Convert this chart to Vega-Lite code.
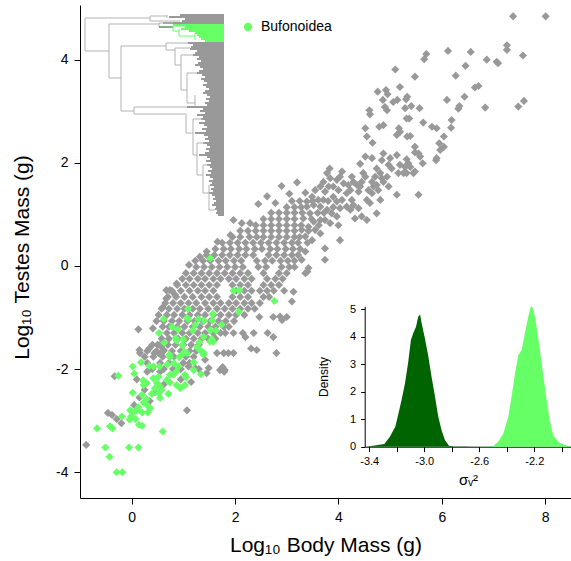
{
"$schema":"https://vega.github.io/schema/vega-lite/v6.json",
"width":491,"height":493,
"autosize":{"type":"none"},
"padding":{"left":80,"top":5,"right":0,"bottom":63},
"background":"white",
"config":{"view":{"stroke":null},"font":"Liberation Sans","axis":{"grid":false,"domainColor":"black","tickColor":"black","labelColor":"black","titleColor":"black","titleFontWeight":"normal","labelFont":"Liberation Sans","titleFont":"Liberation Sans","labelFlush":false,"labelOverlap":false,"labelBound":false}},
"datasets":{
"grey":[
{"x":7.38,"y":4.84},{"x":8.01,"y":4.84},{"x":7.26,"y":4.28},{"x":7.26,"y":4.19},{"x":7.57,"y":4.08},{"x":6.87,"y":4.0},{"x":7.06,"y":3.96},{"x":7.09,"y":3.93},{"x":6.56,"y":4.15},{"x":6.12,"y":4.17},{"x":5.70,"y":4.11},{"x":5.66,"y":4.01},{"x":6.46,"y":3.88},{"x":6.27,"y":3.69},{"x":5.10,"y":3.81},{"x":5.48,"y":3.67},{"x":6.64,"y":3.46},{"x":6.71,"y":3.49},{"x":5.19,"y":3.47},{"x":4.76,"y":3.38},{"x":4.92,"y":3.41},{"x":4.95,"y":3.33},{"x":5.33,"y":3.28},{"x":5.31,"y":3.23},{"x":5.14,"y":3.22},{"x":5.06,"y":3.18},{"x":4.86,"y":3.22},{"x":4.90,"y":3.08},{"x":4.94,"y":3.02},{"x":6.10,"y":3.22},{"x":6.44,"y":3.28},{"x":6.34,"y":3.10},{"x":6.32,"y":3.05},{"x":6.84,"y":3.07},{"x":7.59,"y":3.20},{"x":7.48,"y":3.09},{"x":4.60,"y":3.02},{"x":4.61,"y":2.94},{"x":5.29,"y":3.06},{"x":5.41,"y":3.10},{"x":5.57,"y":3.06},{"x":5.32,"y":2.86},{"x":5.37,"y":2.86},{"x":5.64,"y":2.78},{"x":5.81,"y":2.70},{"x":5.90,"y":2.67},{"x":6.19,"y":2.83},{"x":6.18,"y":2.68},{"x":4.52,"y":2.67},{"x":4.55,"y":2.51},{"x":4.79,"y":2.70},{"x":4.87,"y":2.73},{"x":4.66,"y":2.39},{"x":5.17,"y":2.67},{"x":5.19,"y":2.60},{"x":5.13,"y":2.54},{"x":5.33,"y":2.51},{"x":5.39,"y":2.52},{"x":5.48,"y":2.31},{"x":6.04,"y":2.51},{"x":5.95,"y":2.38},{"x":6.04,"y":2.31},{"x":5.97,"y":2.25},{"x":5.90,"y":2.09},{"x":5.89,"y":2.05},{"x":5.63,"y":1.99},{"x":5.48,"y":2.20},{"x":5.55,"y":2.18},{"x":5.58,"y":2.12},{"x":5.32,"y":2.07},{"x":5.35,"y":1.99},{"x":5.39,"y":1.92},{"x":5.29,"y":1.92},{"x":5.13,"y":2.15},{"x":5.0,"y":2.09},{"x":4.87,"y":2.18},{"x":4.84,"y":2.05},{"x":4.65,"y":2.09},{"x":4.52,"y":2.12},{"x":4.42,"y":1.98},{"x":5.19,"y":1.96},{"x":5.16,"y":1.80},{"x":5.26,"y":1.80},{"x":5.32,"y":1.80},{"x":5.45,"y":1.80},{"x":5.48,"y":1.83},{"x":4.97,"y":1.96},{"x":5.03,"y":1.89},{"x":4.94,"y":1.73},{"x":4.87,"y":1.63},{"x":4.97,"y":1.54},{"x":4.74,"y":1.89},{"x":4.81,"y":1.80},{"x":4.71,"y":1.73},{"x":4.84,"y":1.70},{"x":4.65,"y":1.63},{"x":4.74,"y":1.57},{"x":4.77,"y":1.47},{"x":4.68,"y":1.54},{"x":4.48,"y":1.80},{"x":4.52,"y":1.73},{"x":4.45,"y":1.63},{"x":4.42,"y":1.54},{"x":4.58,"y":1.47},{"x":4.65,"y":1.41},{"x":4.55,"y":1.28},{"x":4.61,"y":1.22},{"x":4.26,"y":1.73},{"x":4.29,"y":1.63},{"x":4.36,"y":1.57},{"x":4.19,"y":1.57},{"x":4.23,"y":1.47},{"x":4.39,"y":1.44},{"x":4.07,"y":1.83},{"x":4.03,"y":1.73},{"x":3.97,"y":1.67},{"x":4.10,"y":1.60},{"x":3.90,"y":1.54},{"x":4.0,"y":1.47},{"x":4.16,"y":1.41},{"x":3.83,"y":1.89},{"x":3.78,"y":1.80},{"x":3.84,"y":1.70},{"x":3.71,"y":1.63},{"x":3.81,"y":1.54},{"x":3.65,"y":1.54},{"x":3.74,"y":1.44},{"x":3.36,"y":1.42},{"x":3.55,"y":1.47},{"x":3.49,"y":1.34},{"x":3.61,"y":1.28},{"x":3.39,"y":1.25},{"x":3.52,"y":1.18},{"x":3.65,"y":1.15},{"x":3.90,"y":1.34},{"x":3.97,"y":1.25},{"x":4.07,"y":1.28},{"x":4.16,"y":1.15},{"x":4.03,"y":1.12},{"x":4.23,"y":1.09},{"x":4.26,"y":1.28},{"x":4.29,"y":1.18},{"x":4.39,"y":1.12},{"x":4.45,"y":0.96},{"x":4.32,"y":0.92},{"x":4.55,"y":0.89},{"x":4.81,"y":1.28},{"x":4.74,"y":1.02},{"x":5.13,"y":1.38},{"x":5.55,"y":1.38},{"x":3.71,"y":1.28},{"x":3.78,"y":1.09},{"x":3.87,"y":1.02},{"x":3.97,"y":0.96},{"x":3.74,"y":0.89},{"x":3.84,"y":0.83},{"x":3.65,"y":0.89},{"x":4.0,"y":0.79},{"x":3.39,"y":1.15},{"x":3.45,"y":1.02},{"x":3.32,"y":0.92},{"x":3.52,"y":0.86},{"x":3.42,"y":0.76},{"x":3.29,"y":0.70},{"x":3.55,"y":0.70},{"x":3.36,"y":0.57},{"x":3.49,"y":0.50},{"x":3.65,"y":0.63},{"x":3.74,"y":0.34},{"x":3.74,"y":0.12},{"x":4.03,"y":0.50},{"x":3.36,"y":0.28},{"x":3.29,"y":0.12},{"x":3.42,"y":-0.04},{"x":3.36,"y":-0.14},
{"x":2.45,"y":1.2},{"x":2.62,"y":1.35},{"x":2.9,"y":1.55},{"x":3.05,"y":1.4},{"x":2.78,"y":1.22},{"x":3.2,"y":1.62},
{"x":-0.88,"y":-3.47},{"x":-0.33,"y":-2.14},{"x":-0.46,"y":-2.85},{"x":-0.38,"y":-2.89},{"x":-0.20,"y":-3.05},{"x":-0.29,"y":-2.97},{"x":1.07,"y":-2.80},{"x":0.13,"y":-1.23},{"x":0.41,"y":-1.21},{"x":0.15,"y":-1.63},{"x":0.34,"y":-1.60},{"x":0.16,"y":-1.69},{"x":0.44,"y":-1.69},{"x":0.52,"y":-1.69},{"x":0.62,"y":-1.63},{"x":0.67,"y":-0.47},{"x":0.60,"y":-0.80},{"x":0.50,"y":-1.53},{"x":0.57,"y":-1.56},{"x":1.42,"y":-1.82},{"x":1.49,"y":-1.98},{"x":1.45,"y":-2.08},{"x":1.23,"y":-1.98},{"x":1.10,"y":-1.95},{"x":1.65,"y":-1.69},{"x":1.78,"y":-1.69},{"x":1.87,"y":-1.69},{"x":1.97,"y":-1.69},{"x":1.71,"y":-2.02},{"x":1.80,"y":-2.02},{"x":1.81,"y":-1.30},{"x":1.97,"y":-1.30},{"x":2.15,"y":-1.30},{"x":2.20,"y":-1.38},{"x":2.36,"y":-1.30},{"x":2.47,"y":-0.99},{"x":2.74,"y":-0.99},{"x":2.87,"y":-0.98},{"x":3.0,"y":-0.99},{"x":2.91,"y":-1.05},{"x":2.63,"y":-1.30},{"x":2.74,"y":-1.38},{"x":2.80,"y":-1.69},{"x":3.10,"y":-0.69},{"x":3.13,"y":-0.50},{"x":2.95,"y":-0.48},{"x":3.40,"y":-0.11},{"x":2.31,"y":-1.60},{"x":2.42,"y":-1.63},{"x":1.76,"y":-1.96},{"x":1.79,"y":-2.05},{"x":1.11,"y":0.02},{"x":1.23,"y":0.10},{"x":1.32,"y":0.18},{"x":1.45,"y":0.28},{"x":0.87,"y":-0.34},{"x":0.74,"y":-0.47},{"x":0.84,"y":-0.56},{"x":0.67,"y":-0.63},{"x":1.66,"y":0.47},{"x":1.91,"y":0.60},{"x":1.97,"y":0.89},{"x":2.13,"y":0.83},{"x":2.29,"y":0.83},
{"x":0.25,"y":-2.4},{"x":0.15,"y":-2.55},{"x":0.35,"y":-2.62},{"x":0.05,"y":-2.7},{"x":0.45,"y":-2.45},{"x":0.62,"y":-2.3},{"x":0.8,"y":-2.0},{"x":0.55,"y":-2.05},{"x":0.95,"y":-2.2},{"x":1.15,"y":-2.25},{"x":1.3,"y":-2.0},{"x":0.3,"y":-2.05},{"x":0.1,"y":-2.2},
{"x":3.1,"y":1.26},{"x":3.25,"y":1.26},{"x":3.5,"y":1.26},{"x":3.8,"y":1.26},
{"x":3.0,"y":1.14},{"x":3.15,"y":1.14},{"x":3.28,"y":1.14},{"x":3.9,"y":1.14},
{"x":2.7,"y":1.03},{"x":2.85,"y":1.03},{"x":3.0,"y":1.03},{"x":3.15,"y":1.03},{"x":3.3,"y":1.03},{"x":3.6,"y":1.03},{"x":3.72,"y":1.03},
{"x":2.55,"y":0.91},{"x":2.7,"y":0.91},{"x":2.85,"y":0.91},{"x":3.0,"y":0.91},{"x":3.15,"y":0.91},{"x":3.48,"y":0.91},
{"x":2.4,"y":0.79},{"x":2.55,"y":0.79},{"x":2.7,"y":0.79},{"x":2.85,"y":0.79},{"x":3.0,"y":0.79},{"x":3.15,"y":0.79},{"x":3.28,"y":0.79},{"x":3.62,"y":0.79},
{"x":2.1,"y":0.68},{"x":2.25,"y":0.68},{"x":2.4,"y":0.68},{"x":2.55,"y":0.68},{"x":2.7,"y":0.68},{"x":2.85,"y":0.68},{"x":3.0,"y":0.68},{"x":3.15,"y":0.68},{"x":3.42,"y":0.68},
{"x":1.95,"y":0.56},{"x":2.1,"y":0.56},{"x":2.28,"y":0.56},{"x":2.42,"y":0.56},{"x":2.55,"y":0.56},{"x":2.7,"y":0.56},{"x":2.85,"y":0.56},{"x":3.0,"y":0.56},{"x":3.15,"y":0.56},{"x":3.25,"y":0.56},
{"x":1.75,"y":0.45},{"x":1.9,"y":0.45},{"x":2.05,"y":0.45},{"x":2.2,"y":0.45},{"x":2.35,"y":0.45},{"x":2.5,"y":0.45},{"x":2.65,"y":0.45},{"x":2.8,"y":0.45},{"x":2.95,"y":0.45},{"x":3.1,"y":0.45},{"x":3.22,"y":0.45},{"x":3.4,"y":0.45},
{"x":1.62,"y":0.33},{"x":1.78,"y":0.33},{"x":1.92,"y":0.33},{"x":2.08,"y":0.33},{"x":2.22,"y":0.33},{"x":2.38,"y":0.33},{"x":2.52,"y":0.33},{"x":2.68,"y":0.33},{"x":2.82,"y":0.33},{"x":2.98,"y":0.33},{"x":3.12,"y":0.33},{"x":3.26,"y":0.33},
{"x":1.45,"y":0.21},{"x":1.6,"y":0.21},{"x":1.75,"y":0.21},{"x":1.9,"y":0.21},{"x":2.05,"y":0.21},{"x":2.2,"y":0.21},{"x":2.35,"y":0.21},{"x":2.65,"y":0.21},{"x":2.8,"y":0.21},{"x":2.95,"y":0.21},{"x":3.1,"y":0.21},{"x":3.22,"y":0.21},
{"x":1.38,"y":0.10},{"x":1.52,"y":0.10},{"x":1.68,"y":0.10},{"x":1.82,"y":0.10},{"x":1.98,"y":0.10},{"x":2.12,"y":0.10},{"x":2.42,"y":0.10},{"x":2.58,"y":0.10},{"x":2.72,"y":0.10},{"x":2.88,"y":0.10},{"x":3.02,"y":0.10},{"x":3.15,"y":0.10},
{"x":1.25,"y":-0.02},{"x":1.4,"y":-0.02},{"x":1.55,"y":-0.02},{"x":1.7,"y":-0.02},{"x":1.85,"y":-0.02},{"x":2.0,"y":-0.02},{"x":2.15,"y":-0.02},{"x":2.45,"y":-0.02},{"x":2.6,"y":-0.02},{"x":2.9,"y":-0.02},{"x":3.05,"y":-0.02},{"x":3.15,"y":-0.02},
{"x":1.05,"y":-0.14},{"x":1.2,"y":-0.14},{"x":1.35,"y":-0.14},{"x":1.5,"y":-0.14},{"x":1.65,"y":-0.14},{"x":1.8,"y":-0.14},{"x":1.95,"y":-0.14},{"x":2.1,"y":-0.14},{"x":2.25,"y":-0.14},{"x":2.55,"y":-0.14},{"x":2.85,"y":-0.14},{"x":3.0,"y":-0.14},
{"x":0.98,"y":-0.25},{"x":1.12,"y":-0.25},{"x":1.28,"y":-0.25},{"x":1.42,"y":-0.25},{"x":1.58,"y":-0.25},{"x":1.72,"y":-0.25},{"x":1.88,"y":-0.25},{"x":2.02,"y":-0.25},{"x":2.18,"y":-0.25},{"x":2.32,"y":-0.25},{"x":2.62,"y":-0.25},{"x":2.78,"y":-0.25},{"x":2.92,"y":-0.25},
{"x":0.88,"y":-0.37},{"x":1.05,"y":-0.37},{"x":1.2,"y":-0.37},{"x":1.35,"y":-0.37},{"x":1.5,"y":-0.37},{"x":1.65,"y":-0.37},{"x":1.95,"y":-0.37},{"x":2.1,"y":-0.37},{"x":2.25,"y":-0.37},{"x":2.55,"y":-0.37},{"x":2.7,"y":-0.37},{"x":2.85,"y":-0.37},
{"x":0.78,"y":-0.48},{"x":0.95,"y":-0.48},{"x":1.12,"y":-0.48},{"x":1.28,"y":-0.48},{"x":1.42,"y":-0.48},{"x":1.58,"y":-0.48},{"x":2.02,"y":-0.48},{"x":2.18,"y":-0.48},{"x":2.32,"y":-0.48},{"x":2.48,"y":-0.48},{"x":2.62,"y":-0.48},{"x":2.75,"y":-0.48},
{"x":0.7,"y":-0.60},{"x":0.86,"y":-0.60},{"x":1.02,"y":-0.60},{"x":1.18,"y":-0.60},{"x":1.35,"y":-0.60},{"x":1.5,"y":-0.60},{"x":1.65,"y":-0.60},{"x":1.95,"y":-0.60},{"x":2.1,"y":-0.60},{"x":2.25,"y":-0.60},{"x":2.55,"y":-0.60},{"x":2.66,"y":-0.60},
{"x":0.65,"y":-0.72},{"x":0.8,"y":-0.72},{"x":0.95,"y":-0.72},{"x":1.1,"y":-0.72},{"x":1.25,"y":-0.72},{"x":1.42,"y":-0.72},{"x":1.58,"y":-0.72},{"x":1.72,"y":-0.72},{"x":1.88,"y":-0.72},{"x":2.02,"y":-0.72},{"x":2.18,"y":-0.72},{"x":2.32,"y":-0.72},{"x":2.48,"y":-0.72},
{"x":0.58,"y":-0.83},{"x":0.72,"y":-0.83},{"x":0.88,"y":-0.83},{"x":1.02,"y":-0.83},{"x":1.18,"y":-0.83},{"x":1.32,"y":-0.83},{"x":1.48,"y":-0.83},{"x":1.65,"y":-0.83},{"x":1.8,"y":-0.83},{"x":1.95,"y":-0.83},{"x":2.1,"y":-0.83},{"x":2.25,"y":-0.83},{"x":2.38,"y":-0.83},
{"x":0.52,"y":-0.95},{"x":0.68,"y":-0.95},{"x":0.82,"y":-0.95},{"x":0.98,"y":-0.95},{"x":1.12,"y":-0.95},{"x":1.28,"y":-0.95},{"x":1.42,"y":-0.95},{"x":1.58,"y":-0.95},{"x":1.72,"y":-0.95},{"x":1.88,"y":-0.95},{"x":2.02,"y":-0.95},{"x":2.18,"y":-0.95},
{"x":0.48,"y":-1.07},{"x":0.62,"y":-1.07},{"x":0.78,"y":-1.07},{"x":0.92,"y":-1.07},{"x":1.08,"y":-1.07},{"x":1.22,"y":-1.07},{"x":1.38,"y":-1.07},{"x":1.52,"y":-1.07},{"x":1.68,"y":-1.07},{"x":1.82,"y":-1.07},{"x":1.98,"y":-1.07},
{"x":0.6,"y":-1.18},{"x":0.72,"y":-1.18},{"x":0.88,"y":-1.18},{"x":1.02,"y":-1.18},{"x":1.18,"y":-1.18},{"x":1.32,"y":-1.18},{"x":1.48,"y":-1.18},{"x":1.62,"y":-1.18},{"x":1.78,"y":-1.18},{"x":1.88,"y":-1.18},
{"x":0.68,"y":-1.30},{"x":0.82,"y":-1.30},{"x":0.98,"y":-1.30},{"x":1.12,"y":-1.30},{"x":1.28,"y":-1.30},{"x":1.42,"y":-1.30},{"x":1.58,"y":-1.30},{"x":1.72,"y":-1.30},
{"x":0.58,"y":-1.41},{"x":0.72,"y":-1.41},{"x":0.9,"y":-1.41},{"x":1.05,"y":-1.41},{"x":1.2,"y":-1.41},{"x":1.35,"y":-1.41},{"x":1.48,"y":-1.41},{"x":1.62,"y":-1.41},
{"x":0.4,"y":-1.53},{"x":0.55,"y":-1.53},{"x":0.7,"y":-1.53},{"x":0.85,"y":-1.53},{"x":1.0,"y":-1.53},{"x":1.15,"y":-1.53},{"x":1.3,"y":-1.53},
{"x":0.3,"y":-1.65},{"x":0.48,"y":-1.65},{"x":0.62,"y":-1.65},{"x":0.78,"y":-1.65},{"x":0.95,"y":-1.65},{"x":1.12,"y":-1.65},{"x":1.25,"y":-1.65},
{"x":0.25,"y":-1.76},{"x":0.42,"y":-1.76},{"x":0.6,"y":-1.76},{"x":0.82,"y":-1.76},{"x":1.05,"y":-1.76},{"x":1.2,"y":-1.76},
{"x":0.3,"y":-1.88},{"x":0.55,"y":-1.88},{"x":0.72,"y":-1.88},{"x":1.0,"y":-1.88},{"x":1.12,"y":-1.88},
{"x":0.4,"y":-2.0},{"x":0.62,"y":-2.0},{"x":0.95,"y":-2.0}
],
"green":[
{"x":1.52,"y":0.15,"clade":"Bufonoidea"},{"x":1.97,"y":-0.48,"clade":"Bufonoidea"},{"x":2.08,"y":-0.47,"clade":"Bufonoidea"},{"x":2.76,"y":-0.68,"clade":"Bufonoidea"},{"x":2.07,"y":-0.89,"clade":"Bufonoidea"},{"x":1.09,"y":-0.83,"clade":"Bufonoidea"},{"x":1.57,"y":-0.93,"clade":"Bufonoidea"},{"x":1.07,"y":-1.01,"clade":"Bufonoidea"},{"x":1.09,"y":-1.03,"clade":"Bufonoidea"},{"x":0.62,"y":-1.03,"clade":"Bufonoidea"},{"x":1.29,"y":-1.03,"clade":"Bufonoidea"},{"x":1.40,"y":-1.06,"clade":"Bufonoidea"},{"x":1.56,"y":-1.06,"clade":"Bufonoidea"},{"x":1.23,"y":-1.14,"clade":"Bufonoidea"},{"x":1.74,"y":-1.14,"clade":"Bufonoidea"},{"x":0.78,"y":-1.18,"clade":"Bufonoidea"},{"x":0.89,"y":-1.23,"clade":"Bufonoidea"},{"x":1.18,"y":-1.25,"clade":"Bufonoidea"},{"x":1.52,"y":-1.25,"clade":"Bufonoidea"},{"x":1.63,"y":-1.25,"clade":"Bufonoidea"},{"x":0.53,"y":-1.30,"clade":"Bufonoidea"},{"x":0.85,"y":-1.40,"clade":"Bufonoidea"},{"x":0.87,"y":-1.45,"clade":"Bufonoidea"},{"x":1.0,"y":-1.42,"clade":"Bufonoidea"},{"x":1.39,"y":-1.38,"clade":"Bufonoidea"},{"x":1.55,"y":-1.42,"clade":"Bufonoidea"},{"x":1.52,"y":-1.47,"clade":"Bufonoidea"},{"x":1.58,"y":-1.47,"clade":"Bufonoidea"},{"x":0.63,"y":-1.49,"clade":"Bufonoidea"},{"x":1.31,"y":-1.48,"clade":"Bufonoidea"},{"x":1.27,"y":-1.58,"clade":"Bufonoidea"},{"x":1.32,"y":-1.63,"clade":"Bufonoidea"},{"x":0.98,"y":-1.54,"clade":"Bufonoidea"},{"x":1.02,"y":-1.67,"clade":"Bufonoidea"},{"x":1.07,"y":-1.69,"clade":"Bufonoidea"},{"x":0.97,"y":-1.72,"clade":"Bufonoidea"},{"x":0.92,"y":-1.77,"clade":"Bufonoidea"},{"x":0.73,"y":-1.72,"clade":"Bufonoidea"},{"x":0.74,"y":-1.77,"clade":"Bufonoidea"},{"x":1.39,"y":-1.72,"clade":"Bufonoidea"},{"x":1.39,"y":-1.68,"clade":"Bufonoidea"},{"x":0.18,"y":-1.87,"clade":"Bufonoidea"},{"x":0.02,"y":-1.95,"clade":"Bufonoidea"},{"x":0.34,"y":-1.94,"clade":"Bufonoidea"},{"x":0.42,"y":-1.95,"clade":"Bufonoidea"},{"x":0.54,"y":-1.95,"clade":"Bufonoidea"},{"x":0.69,"y":-1.91,"clade":"Bufonoidea"},{"x":0.82,"y":-1.89,"clade":"Bufonoidea"},{"x":0.91,"y":-1.95,"clade":"Bufonoidea"},{"x":0.86,"y":-2.05,"clade":"Bufonoidea"},{"x":0.81,"y":-2.11,"clade":"Bufonoidea"},{"x":1.20,"y":-1.87,"clade":"Bufonoidea"},{"x":1.20,"y":-2.02,"clade":"Bufonoidea"},{"x":1.34,"y":-2.10,"clade":"Bufonoidea"},{"x":1.03,"y":-2.11,"clade":"Bufonoidea"},{"x":1.05,"y":-2.16,"clade":"Bufonoidea"},{"x":0.74,"y":-2.11,"clade":"Bufonoidea"},{"x":0.68,"y":-2.21,"clade":"Bufonoidea"},{"x":0.74,"y":-2.26,"clade":"Bufonoidea"},{"x":-0.26,"y":-2.13,"clade":"Bufonoidea"},{"x":0.05,"y":-2.09,"clade":"Bufonoidea"},{"x":0.22,"y":-2.22,"clade":"Bufonoidea"},{"x":0.29,"y":-2.27,"clade":"Bufonoidea"},{"x":0.23,"y":-2.31,"clade":"Bufonoidea"},{"x":0.42,"y":-2.18,"clade":"Bufonoidea"},{"x":0.52,"y":-2.15,"clade":"Bufonoidea"},{"x":0.49,"y":-2.27,"clade":"Bufonoidea"},{"x":0.55,"y":-2.34,"clade":"Bufonoidea"},{"x":0.45,"y":-2.37,"clade":"Bufonoidea"},{"x":0.87,"y":-2.31,"clade":"Bufonoidea"},{"x":0.94,"y":-2.37,"clade":"Bufonoidea"},{"x":1.03,"y":-2.31,"clade":"Bufonoidea"},{"x":0.02,"y":-2.46,"clade":"Bufonoidea"},{"x":0.20,"y":-2.5,"clade":"Bufonoidea"},{"x":0.39,"y":-2.48,"clade":"Bufonoidea"},{"x":0.29,"y":-2.58,"clade":"Bufonoidea"},{"x":0.58,"y":-2.40,"clade":"Bufonoidea"},{"x":0.52,"y":-2.47,"clade":"Bufonoidea"},{"x":0.55,"y":-2.56,"clade":"Bufonoidea"},{"x":0.71,"y":-2.48,"clade":"Bufonoidea"},{"x":0.23,"y":-2.65,"clade":"Bufonoidea"},{"x":0.29,"y":-2.69,"clade":"Bufonoidea"},{"x":0.36,"y":-2.76,"clade":"Bufonoidea"},{"x":0.31,"y":-2.84,"clade":"Bufonoidea"},{"x":0.13,"y":-2.74,"clade":"Bufonoidea"},{"x":0.10,"y":-2.80,"clade":"Bufonoidea"},{"x":0.20,"y":-2.84,"clade":"Bufonoidea"},{"x":-0.03,"y":-2.80,"clade":"Bufonoidea"},{"x":0.02,"y":-2.84,"clade":"Bufonoidea"},{"x":-0.01,"y":-2.92,"clade":"Bufonoidea"},{"x":0.07,"y":-2.97,"clade":"Bufonoidea"},{"x":-0.19,"y":-2.92,"clade":"Bufonoidea"},{"x":-0.04,"y":-2.98,"clade":"Bufonoidea"},{"x":0.14,"y":-3.08,"clade":"Bufonoidea"},{"x":0.20,"y":-3.10,"clade":"Bufonoidea"},{"x":-0.42,"y":-3.11,"clade":"Bufonoidea"},{"x":-0.37,"y":-3.15,"clade":"Bufonoidea"},{"x":-0.67,"y":-3.15,"clade":"Bufonoidea"},{"x":0.60,"y":-3.21,"clade":"Bufonoidea"},{"x":-0.51,"y":-3.52,"clade":"Bufonoidea"},{"x":-0.43,"y":-3.70,"clade":"Bufonoidea"},{"x":-0.05,"y":-3.52,"clade":"Bufonoidea"},{"x":0.13,"y":-3.52,"clade":"Bufonoidea"},{"x":-0.29,"y":-4.0,"clade":"Bufonoidea"},{"x":-0.18,"y":-4.0,"clade":"Bufonoidea"}
],
"branches":[
{"x1":0,"x2":0,"y1":3,"y2":36,"g":"b"},{"x1":0,"x2":65,"y1":3,"y2":3,"g":"b"},{"x1":0,"x2":24,"y1":36,"y2":36,"g":"b"},
{"x1":65,"x2":65,"y1":1,"y2":6,"g":"b"},{"x1":65,"x2":82,"y1":1,"y2":1,"g":"b"},{"x1":65,"x2":95,"y1":6,"y2":6,"g":"b"},{"x1":82,"x2":82,"y1":0,"y2":3,"g":"b"},
{"x1":24,"x2":24,"y1":9,"y2":63,"g":"b"},{"x1":24,"x2":74,"y1":9,"y2":9,"g":"b"},{"x1":74,"x2":74,"y1":8,"y2":12,"g":"b"},{"x1":74,"x2":88,"y1":8,"y2":8,"g":"b"},
{"x1":74,"x2":88,"y1":12,"y2":12,"g":"d"},
{"x1":88,"x2":88,"y1":11,"y2":16,"g":"g"},{"x1":88,"x2":100,"y1":11,"y2":11,"g":"g"},{"x1":88,"x2":94,"y1":16,"y2":16,"g":"g"},{"x1":94,"x2":94,"y1":14,"y2":21,"g":"g"},{"x1":94,"x2":110,"y1":21,"y2":21,"g":"g"},{"x1":110,"x2":110,"y1":18,"y2":25,"g":"g"},
{"x1":24,"x2":36,"y1":63,"y2":63,"g":"b"},{"x1":36,"x2":36,"y1":31,"y2":96,"g":"b"},{"x1":36,"x2":81,"y1":31,"y2":31,"g":"b"},{"x1":81,"x2":81,"y1":28,"y2":35,"g":"b"},{"x1":81,"x2":103,"y1":28,"y2":28,"g":"b"},{"x1":81,"x2":90,"y1":35,"y2":35,"g":"b"},{"x1":90,"x2":90,"y1":33,"y2":50,"g":"b"},{"x1":90,"x2":105,"y1":33,"y2":33,"g":"b"},{"x1":90,"x2":96,"y1":50,"y2":50,"g":"b"},{"x1":96,"x2":96,"y1":40,"y2":75,"g":"b"},{"x1":96,"x2":108,"y1":40,"y2":40,"g":"b"},{"x1":96,"x2":102,"y1":75,"y2":75,"g":"b"},{"x1":102,"x2":102,"y1":58,"y2":88,"g":"b"},{"x1":102,"x2":112,"y1":58,"y2":58,"g":"b"},{"x1":102,"x2":110,"y1":88,"y2":88,"g":"b"},{"x1":110,"x2":110,"y1":80,"y2":92,"g":"b"},
{"x1":36,"x2":49,"y1":96,"y2":96,"g":"b"},{"x1":49,"x2":49,"y1":92,"y2":99,"g":"b"},{"x1":49,"x2":102,"y1":92,"y2":92,"g":"b"},{"x1":49,"x2":101,"y1":99,"y2":99,"g":"b"},{"x1":101,"x2":101,"y1":99,"y2":118,"g":"b"},{"x1":101,"x2":108,"y1":118,"y2":118,"g":"b"},{"x1":108,"x2":108,"y1":104,"y2":140,"g":"b"},{"x1":108,"x2":118,"y1":104,"y2":104,"g":"b"},{"x1":108,"x2":112,"y1":140,"y2":140,"g":"b"},{"x1":112,"x2":112,"y1":128,"y2":160,"g":"b"},{"x1":112,"x2":120,"y1":128,"y2":128,"g":"b"},{"x1":112,"x2":118,"y1":160,"y2":160,"g":"b"},{"x1":118,"x2":118,"y1":150,"y2":178,"g":"b"},{"x1":118,"x2":124,"y1":150,"y2":150,"g":"b"},{"x1":118,"x2":124,"y1":178,"y2":178,"g":"b"},{"x1":124,"x2":124,"y1":170,"y2":195,"g":"b"},{"x1":124,"x2":130,"y1":195,"y2":195,"g":"b"}
],
"tips":[
{"y":0,"x":95,"g":"t"},{"y":2,"x":84,"g":"t"},{"y":4,"x":100,"g":"t"},{"y":6,"x":97,"g":"t"},{"y":8,"x":78,"g":"t"},
{"y":10,"x":88,"g":"gt"},{"y":12,"x":100,"g":"gt"},{"y":14,"x":96,"g":"gt"},{"y":16,"x":104,"g":"gt"},{"y":18,"x":110,"g":"gt"},{"y":20,"x":112,"g":"gt"},{"y":22,"x":114,"g":"gt"},{"y":24,"x":116,"g":"gt"},{"y":26,"x":120,"g":"gt"},
{"y":28,"x":103,"g":"t"},{"y":30,"x":108,"g":"t"},{"y":32,"x":106,"g":"t"},{"y":34,"x":105,"g":"t"},{"y":36,"x":112,"g":"t"},{"y":38,"x":110,"g":"t"},{"y":40,"x":108,"g":"t"},{"y":42,"x":114,"g":"t"},{"y":44,"x":112,"g":"t"},{"y":46,"x":116,"g":"t"},{"y":48,"x":113,"g":"t"},{"y":50,"x":110,"g":"t"},{"y":52,"x":115,"g":"t"},{"y":54,"x":118,"g":"t"},{"y":56,"x":114,"g":"t"},{"y":58,"x":112,"g":"t"},{"y":60,"x":117,"g":"t"},{"y":62,"x":120,"g":"t"},{"y":64,"x":116,"g":"t"},{"y":66,"x":119,"g":"t"},{"y":68,"x":122,"g":"t"},{"y":70,"x":118,"g":"t"},{"y":72,"x":121,"g":"t"},{"y":74,"x":124,"g":"t"},{"y":76,"x":120,"g":"t"},{"y":78,"x":118,"g":"t"},{"y":80,"x":122,"g":"t"},{"y":82,"x":125,"g":"t"},{"y":84,"x":121,"g":"t"},{"y":86,"x":124,"g":"t"},{"y":88,"x":120,"g":"t"},{"y":90,"x":122,"g":"t"},
{"y":92,"x":102,"g":"t"},{"y":94,"x":118,"g":"t"},{"y":96,"x":115,"g":"t"},{"y":98,"x":120,"g":"t"},{"y":100,"x":112,"g":"t"},{"y":102,"x":118,"g":"t"},{"y":104,"x":116,"g":"t"},{"y":106,"x":120,"g":"t"},{"y":108,"x":114,"g":"t"},{"y":110,"x":119,"g":"t"},{"y":112,"x":122,"g":"t"},{"y":114,"x":117,"g":"t"},{"y":116,"x":121,"g":"t"},{"y":118,"x":110,"g":"t"},{"y":120,"x":119,"g":"t"},{"y":122,"x":123,"g":"t"},{"y":124,"x":120,"g":"t"},{"y":126,"x":124,"g":"t"},{"y":128,"x":118,"g":"t"},{"y":130,"x":122,"g":"t"},{"y":132,"x":125,"g":"t"},{"y":134,"x":121,"g":"t"},{"y":136,"x":124,"g":"t"},{"y":138,"x":120,"g":"t"},{"y":140,"x":114,"g":"t"},{"y":142,"x":122,"g":"t"},{"y":144,"x":125,"g":"t"},{"y":146,"x":121,"g":"t"},{"y":148,"x":126,"g":"t"},{"y":150,"x":122,"g":"t"},{"y":152,"x":125,"g":"t"},{"y":154,"x":127,"g":"t"},{"y":156,"x":123,"g":"t"},{"y":158,"x":126,"g":"t"},{"y":160,"x":121,"g":"t"},{"y":162,"x":125,"g":"t"},{"y":164,"x":128,"g":"t"},{"y":166,"x":124,"g":"t"},{"y":168,"x":127,"g":"t"},{"y":170,"x":125,"g":"t"},{"y":172,"x":129,"g":"t"},{"y":174,"x":126,"g":"t"},{"y":176,"x":128,"g":"t"},{"y":178,"x":124,"g":"t"},{"y":180,"x":127,"g":"t"},{"y":182,"x":130,"g":"t"},{"y":184,"x":128,"g":"t"},{"y":186,"x":131,"g":"t"},{"y":188,"x":129,"g":"t"},{"y":190,"x":127,"g":"t"},{"y":192,"x":131,"g":"t"},{"y":194,"x":130,"g":"t"},{"y":196,"x":132,"g":"t"},{"y":198,"x":131,"g":"t"},{"y":200,"x":133,"g":"t"}
],
"dens":[
{"s":-3.42,"d":0,"g":"background"},{"s":-3.40,"d":0.02,"g":"background"},{"s":-3.35,"d":0.05,"g":"background"},{"s":-3.29,"d":0.1,"g":"background"},{"s":-3.25,"d":0.36,"g":"background"},{"s":-3.21,"d":0.73,"g":"background"},{"s":-3.19,"d":1.15,"g":"background"},{"s":-3.165,"d":1.7,"g":"background"},{"s":-3.14,"d":2.3,"g":"background"},{"s":-3.116,"d":3.09,"g":"background"},{"s":-3.097,"d":3.87,"g":"background"},{"s":-3.08,"d":4.12,"g":"background"},{"s":-3.06,"d":4.36,"g":"background"},{"s":-3.044,"d":4.72,"g":"background"},{"s":-3.03,"d":4.8,"g":"background"},{"s":-3.019,"d":4.48,"g":"background"},{"s":-2.995,"d":3.93,"g":"background"},{"s":-2.97,"d":3.27,"g":"background"},{"s":-2.947,"d":2.54,"g":"background"},{"s":-2.922,"d":1.82,"g":"background"},{"s":-2.898,"d":1.09,"g":"background"},{"s":-2.874,"d":0.6,"g":"background"},{"s":-2.85,"d":0.24,"g":"background"},{"s":-2.82,"d":0.03,"g":"background"},{"s":-2.78,"d":0.01,"g":"background"},{"s":-2.70,"d":0.01,"g":"background"},{"s":-2.65,"d":0,"g":"background"},
{"s":-2.66,"d":0,"g":"Bufonoidea"},{"s":-2.55,"d":0.01,"g":"Bufonoidea"},{"s":-2.50,"d":0.02,"g":"Bufonoidea"},{"s":-2.462,"d":0.18,"g":"Bufonoidea"},{"s":-2.425,"d":0.48,"g":"Bufonoidea"},{"s":-2.389,"d":1.09,"g":"Bufonoidea"},{"s":-2.365,"d":1.82,"g":"Bufonoidea"},{"s":-2.34,"d":2.66,"g":"Bufonoidea"},{"s":-2.316,"d":3.33,"g":"Bufonoidea"},{"s":-2.292,"d":3.51,"g":"Bufonoidea"},{"s":-2.268,"d":4.12,"g":"Bufonoidea"},{"s":-2.244,"d":4.72,"g":"Bufonoidea"},{"s":-2.224,"d":5.12,"g":"Bufonoidea"},{"s":-2.207,"d":5.02,"g":"Bufonoidea"},{"s":-2.183,"d":4.36,"g":"Bufonoidea"},{"s":-2.159,"d":3.51,"g":"Bufonoidea"},{"s":-2.135,"d":2.6,"g":"Bufonoidea"},{"s":-2.11,"d":1.7,"g":"Bufonoidea"},{"s":-2.086,"d":0.91,"g":"Bufonoidea"},{"s":-2.062,"d":0.42,"g":"Bufonoidea"},{"s":-2.025,"d":0.18,"g":"Bufonoidea"},{"s":-1.99,"d":0.08,"g":"Bufonoidea"},{"s":-1.94,"d":0.02,"g":"Bufonoidea"},{"s":-1.93,"d":0,"g":"Bufonoidea"}
]
},
"layer":[
{"data":{"name":"grey"},
 "mark":{"type":"point","shape":"diamond","filled":true,"size":66,"color":"#999999","opacity":1,"strokeWidth":0},
 "encoding":{
  "x":{"field":"x","type":"quantitative","scale":{"domain":[-1,8.5],"nice":false,"zero":false},
   "axis":{"values":[0,2,4,6,8],"title":"Log₁₀ Body Mass (g)","titleFontSize":21,"titleX":245.5,"titleY":53,"titleBaseline":"alphabetic","labelFontSize":14,"tickSize":6,"labelPadding":6}},
  "y":{"field":"y","type":"quantitative","scale":{"domain":[-4.5,5.06],"nice":false,"zero":false},
   "axis":{"values":[-4,-2,0,2,4],"title":"Log₁₀ Testes Mass (g)","titleFontSize":21,"titleX":-52,"titleY":252,"titleBaseline":"alphabetic","titleAngle":270,"labelFontSize":14,"tickSize":6,"labelPadding":6,"labelExpr":"replace(datum.label,'−','-')"}}
 }},
{"data":{"name":"green"},
 "mark":{"type":"point","shape":"diamond","filled":true,"size":66,"opacity":1,"strokeWidth":0},
 "encoding":{
  "x":{"field":"x","type":"quantitative","scale":{"domain":[-1,8.5],"nice":false,"zero":false},"axis":null},
  "y":{"field":"y","type":"quantitative","scale":{"domain":[-4.5,5.06],"nice":false,"zero":false},"axis":null},
  "color":{"field":"clade","type":"nominal","scale":{"domain":["Bufonoidea"],"range":["#66ff66"]},
   "legend":{"orient":"none","legendX":161,"legendY":15,"title":null,"symbolType":"circle","symbolSize":70,"symbolOpacity":1,"symbolStrokeWidth":0,"labelFontSize":14,"labelOffset":6,"labelColor":"black","padding":0}}
 }},
{"data":{"name":"tips"},
 "mark":{"type":"rule","strokeWidth":2},
 "encoding":{
  "x":{"field":"x","type":"quantitative","scale":{"domain":[0,139],"range":[5,144],"nice":false,"zero":false},"axis":null},
  "x2":{"datum":139},
  "y":{"field":"y","type":"quantitative","scale":{"domain":[0,200],"range":[10,210],"nice":false,"zero":false},"axis":null},
  "color":{"field":"g","type":"nominal","scale":{"domain":["t","gt"],"range":["#999999","#66ff66"]},"legend":null}
 }},
{"data":{"name":"branches"},
 "mark":{"type":"rule"},
 "encoding":{
  "x":{"field":"x1","type":"quantitative","scale":{"domain":[0,139],"range":[5,144],"nice":false,"zero":false},"axis":null},
  "x2":{"field":"x2"},
  "y":{"field":"y1","type":"quantitative","scale":{"domain":[0,200],"range":[10,210],"nice":false,"zero":false},"axis":null},
  "y2":{"field":"y2"},
  "color":{"field":"g","type":"nominal","scale":{"domain":["b","g","d"],"range":["#b3b3b3","#66ff66","#006400"]},"legend":null},
  "size":{"field":"g","type":"ordinal","scale":{"domain":["b","g","d"],"range":[1,1,2]},"legend":null}
 }},
{"data":{"name":"dens"},
 "mark":{"type":"area","opacity":1},
 "encoding":{
  "x":{"field":"s","type":"quantitative","scale":{"domain":[-3.433,-1.933],"range":[284.7,491],"nice":false,"zero":false},
   "axis":{"orient":"bottom","offset":-51.3,"values":[-3.4,-3.2,-3.0,-2.8,-2.6,-2.4,-2.2,-2.0],"labelExpr":"(abs(datum.value+3.4)<0.01||abs(datum.value+3)<0.01||abs(datum.value+2.6)<0.01||abs(datum.value+2.2)<0.01) ? '-'+format(abs(datum.value),'.1f') : ''","labelFontSize":11,"tickSize":5,"labelPadding":4,"title":"σᵥ²","titleFontSize":15,"titleX":388,"titleY":38,"titleBaseline":"alphabetic"}},
  "y":{"field":"d","type":"quantitative","stack":null,"scale":{"domain":[0,5.1],"range":[441.7,301.25],"nice":false,"zero":false},
   "axis":{"orient":"left","offset":-284.7,"values":[0,1,2,3,4,5],"labelFontSize":11,"tickSize":4,"labelPadding":5,"title":"Density","titleFontSize":12,"titleX":-37,"titleY":371.5,"titleBaseline":"alphabetic","titleAngle":270}},
  "color":{"field":"g","type":"nominal","scale":{"domain":["background","Bufonoidea"],"range":["#006400","#66ff66"]},"legend":null}
 }}
],
"resolve":{"scale":{"x":"independent","y":"independent","color":"independent","size":"independent"}}
}
